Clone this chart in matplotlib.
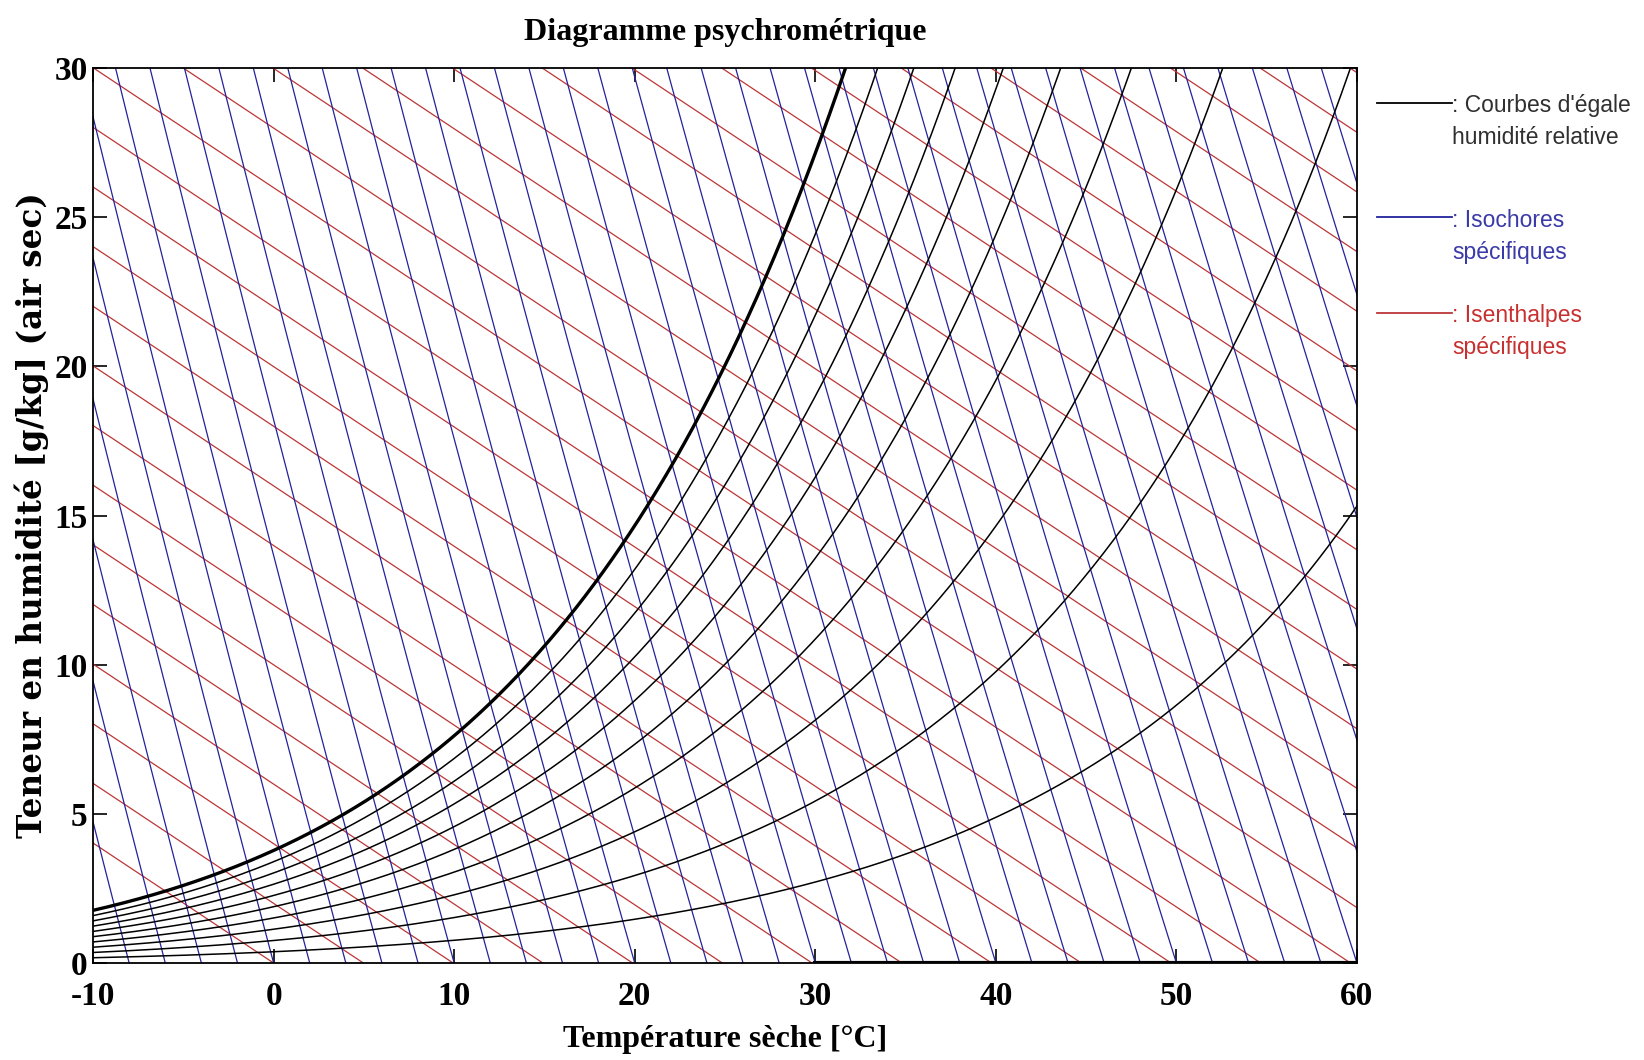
import numpy as np
import matplotlib.pyplot as plt
from matplotlib.lines import Line2D

plt.rcParams['axes.unicode_minus'] = False

# chart values
temp_ticks = [-10, 0, 10, 20, 30, 40, 50, 60]
hum_ticks = [0, 5, 10, 15, 20, 25, 30]

# relative humidity levels (fraction of saturation humidity)
rh_levels = [1.0, 0.9, 0.8, 0.7, 0.6, 0.5, 0.4, 0.3, 0.2, 0.1]

# specific enthalpy levels [kJ/kg dry air]
enthalpy_levels = [0, 5, 10, 15, 20, 25, 30, 35, 40, 45, 50, 55, 60, 65, 70,
                   75, 80, 85, 90, 95, 100, 105, 110, 115, 120, 125, 130,
                   135, 140]

# isochores, given by the dry-air temperature [°C] with the same specific volume
isochore_base_temps = [-10, -8, -6, -4, -2, 0, 2, 4, 6, 8, 10, 12, 14, 16, 18,
                       20, 22, 24, 26, 28, 30, 32, 34, 36, 38, 40, 42, 44, 46,
                       48, 50, 52, 54, 56, 58, 60, 62, 64, 66, 68, 70, 72, 74,
                       76]

# dry (w = 0) segment drawn heavy along the bottom
dry_line_temps = [30, 60]

legend_labels = [": Courbes d'égale\nhumidité relative",
                 ": Isochores\nspécifiques",
                 ": Isenthalpes\nspécifiques"]
legend_colors = ['black', '#22229c', '#bc3636']
legend_text_colors = ['#303030', '#3a3aa8', '#c83030']

P_ATM = 101.325  # kPa


def p_sat(t):
    return 0.61094 * np.exp(17.625 * t / (t + 243.04))


def w_sat(t):
    ps = p_sat(t)
    return 622.0 * ps / (P_ATM - ps)  # g/kg


fig = plt.figure(figsize=(16.44, 10.60), dpi=100)
ax = fig.add_axes([0.0566, 0.0915, 0.7688, 0.8443])

t = np.linspace(-10, 60, 1401)
w = np.linspace(0, 30, 301)

# isenthalpes: h = 1.006 t + 2.501 w
for h in enthalpy_levels:
    ax.plot(t, (h - 1.006 * t) / 2.501, color=legend_colors[2], lw=0.9)

# isochores: (T+273.15)(1 + 1.608 w) = const
for t0 in isochore_base_temps:
    tt = (t0 + 273.15) / (1 + 1.608 * w / 1000.0) - 273.15
    ax.plot(tt, w, color=legend_colors[1], lw=0.9)

# relative humidity curves
for rh in rh_levels:
    lw = 2.4 if rh == 1.0 else 1.1
    ax.plot(t, rh * w_sat(t), color='black', lw=lw)

ax.plot(dry_line_temps, [0, 0], color='black', lw=3)

ax.set_xlim(-10, 60)
ax.set_ylim(0, 30)
ax.set_xticks(temp_ticks)
ax.set_yticks(hum_ticks)
ax.tick_params(direction='in', length=10, width=1.2, top=True, right=True,
               labelsize=24)
for lab in ax.get_xticklabels() + ax.get_yticklabels():
    lab.set_family('Liberation Serif')
    lab.set_fontweight('bold')
ax.tick_params(axis='x', pad=13)
ax.tick_params(axis='y', pad=4)
for s in ax.spines.values():
    s.set_linewidth(1.3)

ax.set_title('Diagramme psychrométrique', family='Liberation Serif',
             fontweight='bold', fontsize=23, pad=20)
ax.set_xlabel('Température sèche [°C]', family='Liberation Serif',
              fontweight='bold', fontsize=23, labelpad=9)
ax.set_ylabel('Teneur en humidité [g/kg] (air sec)', family='DejaVu Serif',
              fontweight='bold', fontsize=23.5, labelpad=4)

# legend drawn at the right of the axes
legend_y = [0.903, 0.795, 0.705]
for lab, lc, tc, yy in zip(legend_labels, legend_colors, legend_text_colors,
                           legend_y):
    fig.add_artist(Line2D([0.8375, 0.8835], [yy, yy], color=lc, lw=1.3))
    fig.text(0.8835, yy + 0.008, lab, color=tc, fontsize=16.5,
             family='Liberation Sans', va='top', ha='left', linespacing=1.5)

fig.savefig('out.png', dpi=100)
